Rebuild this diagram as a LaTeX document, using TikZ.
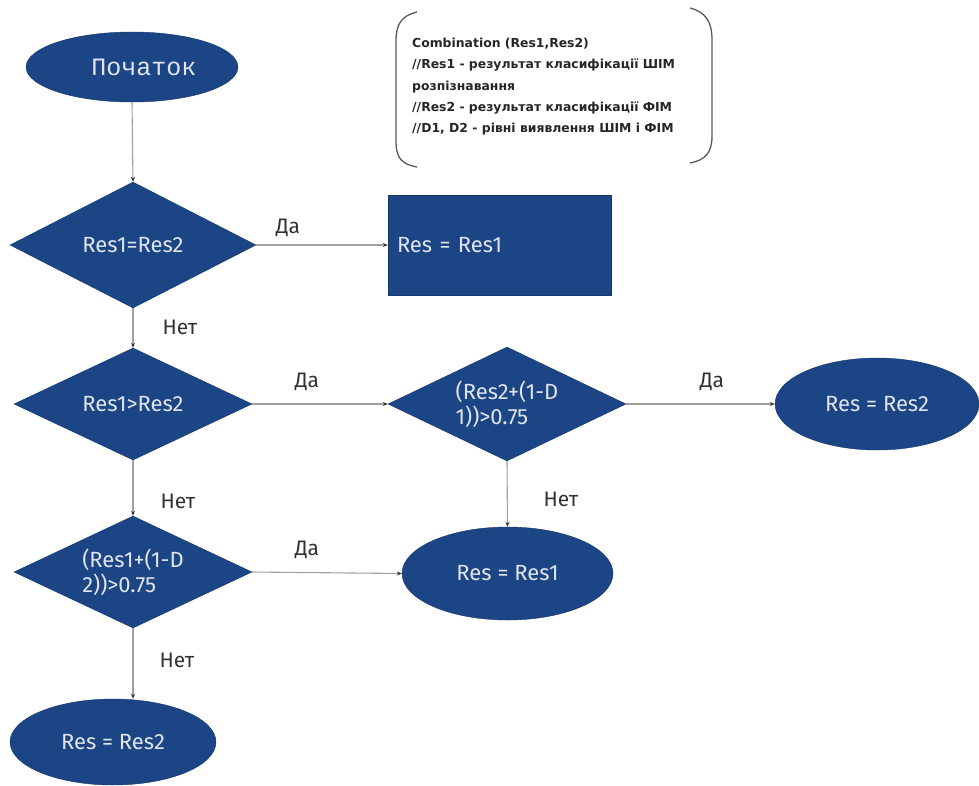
\documentclass[tikz,border=0pt]{standalone}
\usepackage{fontspec}
\setmainfont{Fira Sans}
\newfontfamily\notefont{DejaVu Sans}
\newfontfamily\startfont{Liberation Mono}
\usetikzlibrary{shapes.geometric,arrows.meta}
\definecolor{fcblue}{RGB}{27,69,133}
\definecolor{fctext}{RGB}{225,228,235}
\definecolor{fcline}{RGB}{160,160,160}
\definecolor{fclbl}{RGB}{50,50,50}
\tikzset{
  blk/.style={fill=fcblue,draw=fcblue!80!black,text=fctext,inner sep=0pt,font=\fontsize{22}{25}\selectfont},
  dia/.style={blk,shape=diamond,shape aspect=2.2,align=left},
  ell/.style={blk,shape=ellipse},
  conn/.style={draw=fcline,line width=1.1pt,-{Stealth[length=5pt,width=4pt,color=black!80]}},
  lbl/.style={text=fclbl,font=\fontsize{21}{24}\selectfont,inner sep=0pt},
  brk/.style={draw=black!65,line width=1.3pt}
}
\begin{document}
\begin{tikzpicture}[x=1pt,y=-1pt]
\useasboundingbox (0,0) rectangle (979,785);
% nodes
\node[ell,minimum width=212pt,minimum height=70pt,font=\startfont\fontsize{25}{28}\selectfont] (start) at (132,67) {\hspace*{24pt}Початок};
\node[dia,minimum width=246pt,minimum height=126pt] (d1) at (133,245) {Res1=Res2};
\node[blk,minimum width=223pt,minimum height=100pt,text width=205pt,inner xsep=9pt,align=left] (r1) at (499.5,245) {Res = Res1};
\node[dia,minimum width=238pt,minimum height=112pt] (d2) at (133,404) {Res1>Res2};
\node[dia,minimum width=238pt,minimum height=114pt] (d3) at (507,404) {(Res2+(1-D\\1))>0.75};
\node[ell,minimum width=204pt,minimum height=92pt] (e2) at (877,404) {Res = Res2};
\node[ell,minimum width=211pt,minimum height=93pt] (e1) at (507.5,573.5) {Res = Res1};
\node[dia,minimum width=238pt,minimum height=112pt] (d4) at (133,572) {(Res1+(1-D\\2))>0.75};
\node[ell,minimum width=206pt,minimum height=86pt] (e3) at (113,742) {Res = Res2};
% note
\draw[brk] (417,12) .. controls (401,16) and (396,24) .. (396,42) -- (396,140) .. controls (396,158) and (401,164) .. (417,167);
\draw[brk] (690,8) .. controls (706,12) and (712,22) .. (712,40) -- (712,136) .. controls (712,152) and (706,160) .. (690,163);
\node[anchor=north west,align=left,inner sep=0pt,font=\notefont\bfseries\fontsize{12.4}{21.3}\selectfont,text=black!85] (note) at (412,38)
{Combination (Res1,Res2)\\//Res1 - результат класифікації ШІМ\\розпізнавання\\//Res2 - результат класифікації ФІМ\\//D1, D2 - рівні виявлення ШІМ і ФІМ};
% connectors
\draw[conn] (start.south) -- (d1.north);
\draw[conn] (d1.east) -- (r1.west);
\draw[conn] (d1.south) -- (d2.north);
\draw[conn] (d2.east) -- (d3.west);
\draw[conn] (d3.east) -- (e2.west);
\draw[conn] (d3.south) -- (e1.north);
\draw[conn] (d2.south) -- (d4.north);
\draw[conn] (d4.east) -- (e1.west);
\draw[conn] (d4.south) -- (d4.south |- e3.north);
% labels
\node[lbl] (l1) at (288,228) {Да};
\node[lbl] (l2) at (307,382) {Да};
\node[lbl] (l3) at (712,382) {Да};
\node[lbl] (l4) at (307,550) {Да};
\node[lbl] (n1) at (180,327) {Нет};
\node[lbl] (n2) at (561,499) {Нет};
\node[lbl] (n3) at (178,501) {Нет};
\node[lbl] (n4) at (177,660) {Нет};
\end{tikzpicture}
\end{document}
